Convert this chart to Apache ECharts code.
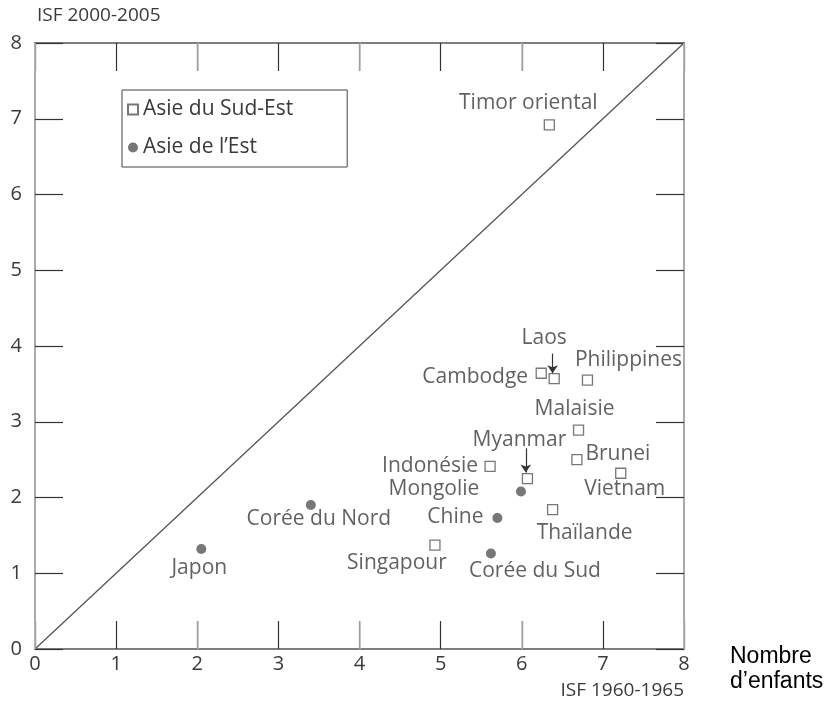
<!DOCTYPE html>
<html>
<head>
<meta charset="utf-8">
<script src="https://cdn.jsdelivr.net/npm/echarts@6/dist/echarts.min.js"></script>
<style>
  html, body { margin: 0; padding: 0; background: #fff; }
  #chart { width: 829px; height: 716px; }
</style>
</head>
<body>
<div id="chart"></div>
<script>
// ISF 1960-1965 (x) vs ISF 2000-2005 (y)
const seNames = ['Timor oriental', 'Laos', 'Cambodge', 'Philippines', 'Malaisie', 'Brunei', 'Vietnam', 'Myanmar', 'Indonésie', 'Thaïlande', 'Singapour']
const seX = [6.34, 6.40, 6.24, 6.81, 6.70, 6.68, 7.22, 6.07, 5.61, 6.38, 4.93]
const seY = [6.92, 3.57, 3.64, 3.55, 2.89, 2.50, 2.32, 2.25, 2.41, 1.84, 1.37]

const eNames = ['Mongolie', 'Chine', 'Corée du Sud', 'Corée du Nord', 'Japon']
const eX = [5.99, 5.70, 5.62, 3.40, 2.05]
const eY = [2.08, 1.73, 1.26, 1.90, 1.32]

// label offsets (px, from point centre to text centre)
const labelOffsets = {
  'Timor oriental': [-21, -22],
  'Laos': [-10, -41],
  'Cambodge': [-66, 4],
  'Philippines': [41, -20],
  'Malaisie': [-4, -21],
  'Brunei': [41, -6],
  'Vietnam': [4, 16],
  'Myanmar': [-8, -39],
  'Indonésie': [-60, 0],
  'Thaïlande': [32, 23],
  'Singapour': [-38, 18],
  'Mongolie': [-87, -2],
  'Chine': [-42, -1],
  'Corée du Sud': [44, 17],
  'Corée du Nord': [8, 14],
  'Japon': [-2, 19]
}

// annotation arrows (data coords)
const arrows = [
  [[6.38, 3.90], [6.38, 3.64]],
  [[6.05, 2.65], [6.05, 2.33]]
]

const font = 'Open Sans'
const textColor = '#3a3a3a'

const mkData = (names, xs, ys) => names.map((n, i) => ({
  name: n,
  value: [xs[i], ys[i]],
  label: { offset: labelOffsets[n] }
}))

const baseLabel = {
  show: true,
  position: 'inside',
  formatter: '{b}',
  color: textColor,
  fontSize: 21,
  fontFamily: font
}

const chart = echarts.init(document.getElementById('chart'))

const xCommon = { type: 'value', min: 0, max: 8, splitLine: { show: false } }
const yCommon = { type: 'value', min: 0, max: 8, splitLine: { show: false } }
const darkTick = { inside: true, length: 28, lineStyle: { color: '#333', width: 1.2 } }
const lightTick = { inside: true, length: 28, lineStyle: { color: '#bbb', width: 1.6 } }

const option = {
  animation: false,
  grid: { left: 35, right: 145, top: 43, bottom: 67 },
  legend: {
    orient: 'vertical',
    left: 122,
    top: 90,
    borderColor: '#444',
    borderWidth: 1,
    padding: [9, 54, 9, 5],
    itemGap: 17,
    itemWidth: 10,
    itemHeight: 10,
    textStyle: { fontSize: 21, fontFamily: font, color: textColor },
    data: ['Asie du Sud-Est', 'Asie de l\u2019Est']
  },
  xAxis: [
    Object.assign({}, xCommon, {
      position: 'bottom', interval: 1,
      axisLine: { onZero: false, lineStyle: { color: '#555', width: 1.5 } },
      axisTick: darkTick,
      axisLabel: { margin: 5, fontSize: 20, fontFamily: font, color: textColor }
    }),
    Object.assign({}, xCommon, {
      position: 'bottom', interval: 2, z: 5,
      axisLine: { show: false, onZero: false },
      axisTick: lightTick,
      axisLabel: { show: false }
    }),
    Object.assign({}, xCommon, {
      position: 'top', interval: 1,
      axisLine: { onZero: false, lineStyle: { color: '#555', width: 1.5 } },
      axisTick: darkTick,
      axisLabel: { show: false }
    }),
    Object.assign({}, xCommon, {
      position: 'top', interval: 2, z: 5,
      axisLine: { show: false, onZero: false },
      axisTick: lightTick,
      axisLabel: { show: false }
    })
  ],
  yAxis: [
    Object.assign({}, yCommon, {
      position: 'left', interval: 1,
      axisLine: { onZero: false, lineStyle: { color: '#aaa', width: 2 } },
      axisTick: darkTick,
      axisLabel: { margin: 13, fontSize: 20, fontFamily: font, color: textColor }
    }),
    Object.assign({}, yCommon, {
      position: 'right', interval: 1,
      axisLine: { onZero: false, lineStyle: { color: '#aaa', width: 2 } },
      axisTick: darkTick,
      axisLabel: { show: false }
    })
  ],
  graphic: [
    { type: 'text', left: 37, top: 6, style: { text: 'ISF 2000-2005', fontSize: 19, fontFamily: font, fill: textColor } },
    { type: 'text', right: 145, top: 681, style: { text: 'ISF 1960-1965', fontSize: 19, fontFamily: font, fill: textColor } },
    { type: 'text', left: 730, top: 644, style: { text: 'Nombre\nd\u2019enfants', fontSize: 23, lineHeight: 25, fontFamily: 'Liberation Sans', fill: '#000' } }
  ],
  series: [
    {
      name: 'diag',
      type: 'line',
      data: [[0, 0], [8, 8]],
      symbol: 'none',
      silent: true,
      lineStyle: { color: '#555', width: 1.3 },
      z: 1
    },
    {
      name: 'Asie du Sud-Est',
      type: 'scatter',
      symbol: 'rect',
      symbolSize: 10,
      itemStyle: { color: '#fff', borderColor: '#555', borderWidth: 1.3 },
      label: baseLabel,
      data: mkData(seNames, seX, seY),
      markLine: {
        silent: true,
        symbol: ['none', 'arrow'],
        symbolSize: 8,
        label: { show: false },
        lineStyle: { color: '#333', width: 1.2, type: 'solid' },
        data: arrows.map(a => [{ coord: a[0] }, { coord: a[1] }])
      },
      z: 3
    },
    {
      name: 'Asie de l\u2019Est',
      type: 'scatter',
      symbol: 'circle',
      symbolSize: 10,
      itemStyle: { color: '#555' },
      label: baseLabel,
      data: mkData(eNames, eX, eY),
      z: 3
    }
  ]
}

option && chart.setOption(option)
</script>
</body>
</html>
